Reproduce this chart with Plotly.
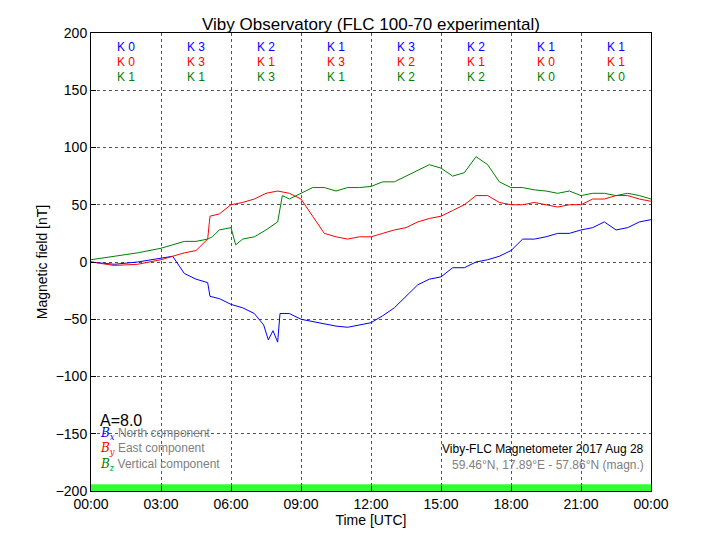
import plotly.graph_objects as go

t = [0,1,2,3,3.5,4,4.5,5,5.1,5.5,6,6.5,7,7.4,7.6,7.8,8,8.1,8.5,9,9.5,10,10.5,11,11.5,12,12.5,13,13.5,14,14.5,15,15.5,16,16.5,17,17.5,18,18.5,19,19.5,20,20.5,21,21.5,22,22.5,23,23.5,24]
bx = [0,-2,0,3,5,-10,-15,-18,-30,-32,-37,-40,-45,-55,-68,-60,-70,-45,-45,-50,-52,-54,-56,-57,-55,-53,-47,-40,-30,-20,-15,-13,-5,-5,0,2,5,10,20,20,22,25,25,28,30,35,28,30,35,37]
t2 = [0,1,2,3,4,4.5,5,5.1,5.5,6,6.5,7,7.5,8,8.5,9,9.5,10,10.5,11,11.5,12,12.5,13,13.5,14,14.5,15,15.5,16,16.5,17,17.5,18,18.5,19,19.5,20,20.5,21,21.5,22,22.5,23,23.5,24]
by = [0,-3,-2,2,8,10,20,40,42,50,52,55,60,62,60,55,40,25,22,20,22,22,25,28,30,35,38,40,45,50,58,58,52,50,50,52,50,48,50,50,55,55,58,58,55,53]
t3 = [0,1,2,3,3.5,4,4.5,5,5.2,5.5,6,6.2,6.5,7,7.5,8,8.2,8.5,9,9.5,10,10.5,11,11.5,12,12.5,13,13.5,14,14.5,15,15.5,16,16.5,17,17.5,18,18.5,19,19.5,20,20.5,21,21.5,22,22.5,23,23.5,24]
bz = [2,5,8,12,15,18,18,20,22,28,30,15,20,22,28,35,58,55,60,65,65,62,65,65,66,70,70,75,80,85,82,75,78,92,85,70,65,65,63,62,60,62,58,60,60,58,60,58,55]
k_x = [0,3,2,1,3,2,1,1]
k_y = [0,3,1,3,2,1,0,1]
k_z = [1,1,3,1,2,2,0,0]
tick_vals = [0,3,6,9,12,15,18,21,24]
tick_text = ["00:00","03:00","06:00","09:00","12:00","15:00","18:00","21:00","00:00"]

F = "Liberation Sans, Arial, sans-serif"
fig = go.Figure()
fig.add_shape(type="rect", x0=0, x1=24, y0=-200, y1=-194, fillcolor="#33ff33", line_width=0, layer="below")
for x, y, c in [(t, bx, "blue"), (t2, by, "red"), (t3, bz, "green")]:
    fig.add_trace(go.Scatter(x=x, y=y, mode="lines", line=dict(color=c, width=1), showlegend=False))
for i in range(8):
    for ks, c, yy in [(k_x, "blue", 188), (k_y, "red", 175), (k_z, "green", 162)]:
        fig.add_annotation(x=i*3+1.5, y=yy, text=f"K {ks[i]}", showarrow=False, font=dict(color=c, size=12, family=F))
fig.add_annotation(x=0.3, y=-138, text="A=8.0", showarrow=False, xanchor="left", font=dict(size=16, color="black", family=F))
for j, (sub, lab, c) in enumerate([("x", "North component", "blue"), ("y", "East component", "red"), ("z", "Vertical component", "green")]):
    fig.add_annotation(x=0.3, y=-150 - j*13.5, xanchor="left", showarrow=False,
                       text=f"<span style='color:{c};font-family:DejaVu Serif'><i>B</i><sub><i>{sub}</i></sub></span> {lab}",
                       font=dict(size=12, color="gray", family=F))
fig.add_annotation(x=23.8, y=-163, xanchor="right", showarrow=False, text="Viby-FLC Magnetometer 2017 Aug 28", font=dict(size=12, color="black", family=F))
fig.add_annotation(x=23.8, y=-177, xanchor="right", showarrow=False, text="59.46°N, 17.89°E - 57.86°N (magn.)", font=dict(size=12, color="gray", family=F))

ax = dict(showline=True, linecolor="black", mirror=True, linewidth=1, showgrid=True, gridcolor="#555", griddash="dot", gridwidth=0.5,
          ticks="inside", tickcolor="black", zeroline=False, tickfont=dict(size=14, color="black", family=F))
fig.update_layout(width=720, height=540, plot_bgcolor="white", paper_bgcolor="white",
                  margin=dict(l=83, r=77, t=25, b=57, autoexpand=False),
                  title=dict(text="Viby Observatory (FLC 100-70 experimental)", x=0.5, xref="paper", y=1, yref="paper", yanchor="bottom", pad=dict(b=3), font=dict(size=17, color="black", family=F)),
                  xaxis=dict(range=[0,24], tickvals=tick_vals, ticktext=tick_text, title=dict(text="Time [UTC]", font=dict(size=14, family=F, color="black"), standoff=2), **ax),
                  yaxis=dict(range=[-200,200], dtick=50, title=dict(text="Magnetic field [nT]", font=dict(size=14, family=F, color="black"), standoff=4), **ax))
fig.write_html("out.html")
